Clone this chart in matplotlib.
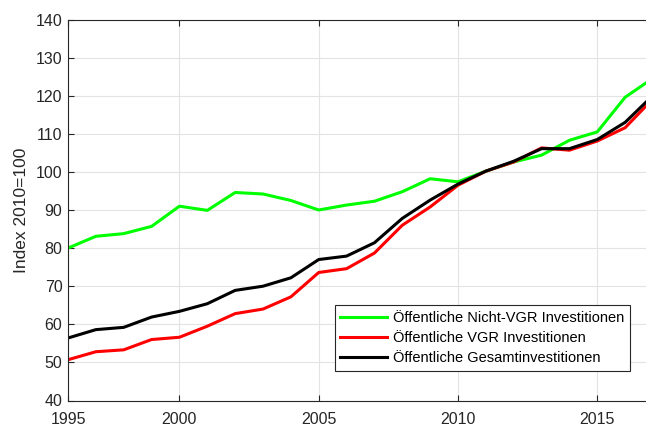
import numpy as np
import matplotlib.pyplot as plt

plt.rcParams['font.family'] = ['Liberation Sans', 'DejaVu Sans']

years = np.arange(1996, 2018)
nicht_vgr = [80.0, 83.1, 83.8, 85.7, 91.0, 89.9, 94.6, 94.2, 92.5, 90.0, 91.3,
             92.3, 94.8, 98.2, 97.4, 100.2, 102.6, 104.4, 108.3, 110.5, 119.6, 124.6]
vgr = [50.7, 52.8, 53.3, 56.0, 56.6, 59.5, 62.8, 64.0, 67.2, 73.6, 74.6,
       78.7, 86.0, 90.8, 96.5, 100.2, 102.6, 106.3, 105.7, 108.1, 111.6, 119.2]
gesamt = [56.4, 58.6, 59.2, 61.9, 63.4, 65.4, 68.9, 70.0, 72.2, 77.0, 77.9,
          81.4, 87.8, 92.6, 96.8, 100.2, 102.8, 106.1, 106.1, 108.5, 113.0, 120.1]

xtick_pos = [1996, 2000, 2005, 2010, 2015]
xtick_labels = ['1995', '2000', '2005', '2010', '2015']

fig = plt.figure(figsize=(6.46, 4.29), dpi=100)
ax = fig.add_axes([68 / 646, 28.5 / 429, 585 / 646, 381 / 429])

ax.plot(years, nicht_vgr, color=(0, 1, 0), lw=2.2, label='Öffentliche Nicht-VGR Investitionen')
ax.plot(years, vgr, color=(1, 0, 0), lw=2.2, label='Öffentliche VGR Investitionen')
ax.plot(years, gesamt, color='k', lw=2.2, label='Öffentliche Gesamtinvestitionen')

ax.set_xlim(1996, 2017)
ax.set_ylim(40, 140)
ax.set_xticks(xtick_pos)
ax.set_xticklabels(xtick_labels)
ax.set_yticks(np.arange(40, 141, 10))
ax.tick_params(direction='in', top=True, right=True, labelsize=11.5,
               length=4, width=0.8, colors='#262626')
ax.tick_params(axis='x', pad=8)
ax.tick_params(axis='y', pad=4)
ax.grid(True, color='#e3e3e3', lw=0.8)
ax.set_axisbelow(True)
for s in ax.spines.values():
    s.set_color('#262626')
    s.set_linewidth(0.8)

ax.set_ylabel('Index 2010=100', fontsize=12.5, color='#262626', labelpad=5)

leg = ax.legend(loc='lower right', bbox_to_anchor=(630 / 646, 58 / 429),
                bbox_transform=fig.transFigure, fontsize=10.5, fancybox=False,
                framealpha=1, edgecolor='#262626', handlelength=3.2,
                borderpad=0.4, labelspacing=0.42, handletextpad=0.4, borderaxespad=0)
leg.get_frame().set_linewidth(0.8)

fig.savefig('out.png', dpi=100)
